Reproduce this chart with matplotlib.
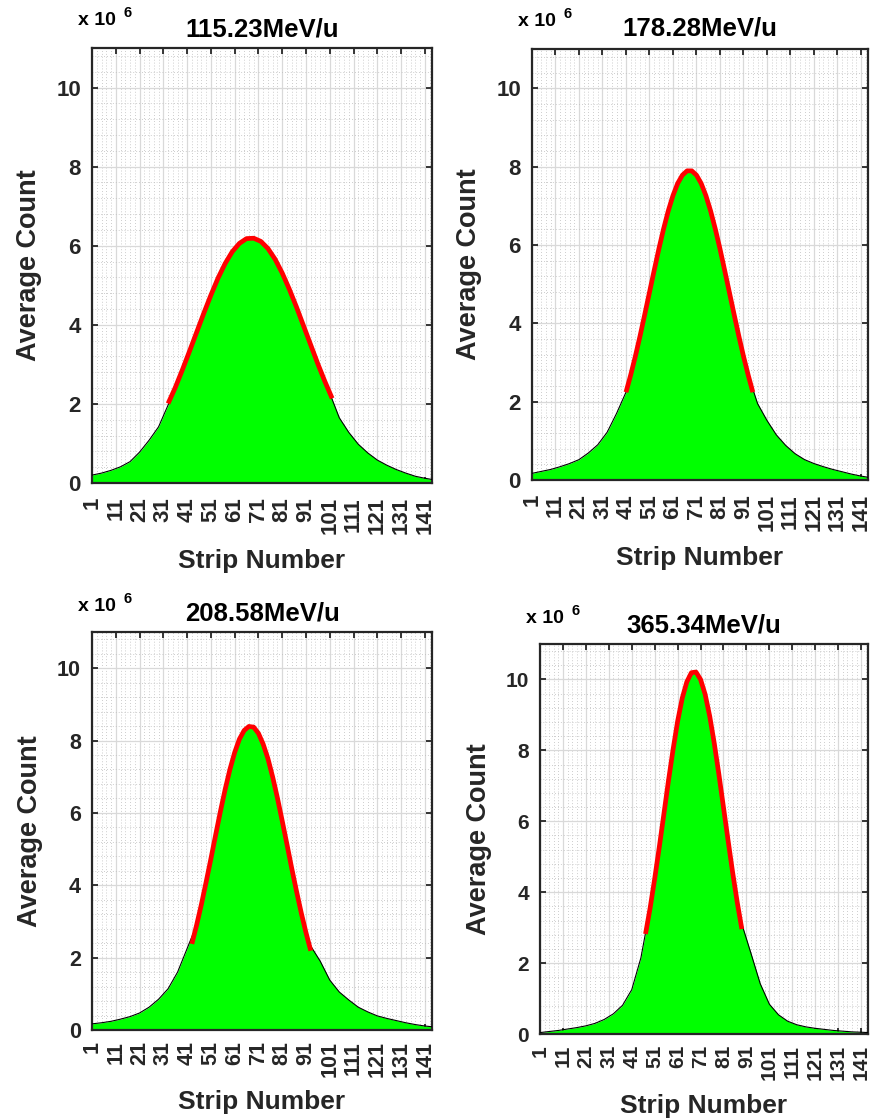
import matplotlib
matplotlib.use("Agg")
import matplotlib.pyplot as plt
from matplotlib.ticker import FixedLocator

plt.rcParams['font.family'] = ['Liberation Sans', 'DejaVu Sans']
plt.rcParams['font.weight'] = 'bold'

# Beam energies (one panel each)
energies = ['115.23MeV/u', '178.28MeV/u', '208.58MeV/u', '365.34MeV/u']

# Strip positions of the sampled profile
strips = [1, 5, 9, 13, 17, 21, 25, 29, 33, 37, 41, 45, 49, 53, 57, 61, 65, 69,
          73, 77, 81, 85, 89, 93, 97, 101, 105, 109, 113, 117, 121, 125, 129,
          133, 137, 141, 144]

# Average counts per strip (x 10^6)
counts_115 = [0.20, 0.25, 0.32, 0.41, 0.54, 0.78, 1.08, 1.42, 1.97, 2.56, 3.17,
              3.81, 4.45, 5.04, 5.55, 5.93, 6.18, 6.22, 6.08, 5.75, 5.31, 4.75,
              4.13, 3.49, 2.86, 2.27, 1.65, 1.28, 0.98, 0.76, 0.58, 0.45, 0.34,
              0.25, 0.17, 0.12, 0.09]
counts_178 = [0.17, 0.22, 0.27, 0.34, 0.42, 0.52, 0.69, 0.90, 1.22, 1.70, 2.24,
              3.16, 4.23, 5.35, 6.41, 7.26, 7.82, 7.92, 7.60, 6.87, 5.90, 4.79,
              3.68, 2.68, 1.95, 1.52, 1.15, 0.88, 0.67, 0.52, 0.42, 0.34, 0.27,
              0.21, 0.15, 0.10, 0.07]
counts_208 = [0.17, 0.20, 0.24, 0.30, 0.37, 0.47, 0.63, 0.85, 1.14, 1.60, 2.25,
              2.90, 4.09, 5.39, 6.65, 7.67, 8.30, 8.42, 7.90, 6.99, 5.78, 4.47,
              3.24, 2.32, 1.90, 1.38, 1.05, 0.83, 0.63, 0.50, 0.39, 0.32, 0.26,
              0.20, 0.15, 0.11, 0.09]
counts_365 = [0.04, 0.07, 0.10, 0.14, 0.18, 0.23, 0.30, 0.41, 0.57, 0.81, 1.25,
              2.15, 3.55, 5.27, 7.14, 8.82, 9.95, 10.25, 9.58, 8.19, 6.39, 4.55,
              3.10, 2.27, 1.42, 0.84, 0.54, 0.36, 0.26, 0.20, 0.16, 0.13, 0.10,
              0.08, 0.06, 0.05, 0.04]

# Fitted peak curves
fit_strips_115 = [33, 36, 39, 42, 45, 48, 51, 54, 57, 60, 63, 66, 69, 72, 75,
                  78, 81, 84, 87, 90, 93, 96, 99, 102]
fit_115 = [2.01, 2.41, 2.86, 3.33, 3.81, 4.29, 4.75, 5.18, 5.55, 5.85, 6.06,
           6.18, 6.19, 6.11, 5.93, 5.66, 5.31, 4.90, 4.45, 3.97, 3.49, 3.01,
           2.56, 2.14]

fit_strips_178 = [41, 43, 45, 47, 49, 51, 53, 55, 57, 59, 61, 63, 65, 67, 69,
                  71, 73, 75, 77, 79, 81, 83, 85, 87, 89, 91, 93, 95]
fit_178 = [2.24, 2.68, 3.16, 3.68, 4.23, 4.79, 5.35, 5.90, 6.41, 6.87, 7.26,
           7.57, 7.78, 7.89, 7.89, 7.78, 7.57, 7.26, 6.87, 6.41, 5.90, 5.35,
           4.79, 4.23, 3.68, 3.16, 2.68, 2.24]

fit_strips_208 = [43, 45, 47, 49, 51, 53, 55, 57, 59, 61, 63, 65, 67, 69, 71,
                  73, 75, 77, 79, 81, 83, 85, 87, 89, 91, 93]
fit_208 = [2.38, 2.90, 3.47, 4.09, 4.73, 5.39, 6.04, 6.65, 7.20, 7.67, 8.04,
           8.28, 8.39, 8.37, 8.20, 7.90, 7.50, 6.99, 6.41, 5.78, 5.13, 4.47,
           3.84, 3.24, 2.69, 2.19]

fit_strips_365 = [47, 49, 51, 53, 55, 57, 59, 61, 63, 65, 67, 69, 71, 73, 75,
                  77, 79, 81, 83, 85, 87, 89]
fit_365 = [2.82, 3.55, 4.38, 5.27, 6.20, 7.14, 8.02, 8.82, 9.47, 9.93, 10.19,
           10.21, 10.00, 9.58, 8.96, 8.19, 7.32, 6.39, 5.46, 4.55, 3.71, 2.96]

x_ticks = [1, 11, 21, 31, 41, 51, 61, 71, 81, 91, 101, 111, 121, 131, 141]
y_ticks = [0, 2, 4, 6, 8, 10]

W, H = 871, 1120
fig = plt.figure(figsize=(W / 100, H / 100), dpi=100)

# per-panel geometry: box (left, right, top, bottom in px), title pad,
# tick label size, x tick pad, x label pad
boxes = [(92, 432, 48, 483), (532, 868, 49, 480),
         (92, 432, 632, 1030), (540, 868, 644, 1034)]
title_pad = [8, 10, 8, 8]
tick_size = [16, 16, 15.5, 15]
xtick_pad = [10, 10, 8, 8]
xlabel_pad = [11, 11, 9.5, 10]

panels = [(counts_115, fit_strips_115, fit_115),
          (counts_178, fit_strips_178, fit_178),
          (counts_208, fit_strips_208, fit_208),
          (counts_365, fit_strips_365, fit_365)]

dark = '#262626'
for i, (box, (counts, fx, fy)) in enumerate(zip(boxes, panels)):
    l, r, t, b = box
    ax = fig.add_axes([l / W, 1 - b / H, (r - l) / W, (b - t) / H])
    ax.set_xlim(1, 144)
    ax.set_ylim(0, 11)

    ax.fill_between(strips, counts, 0, color='#00ff00', lw=0, zorder=2)
    ax.plot(strips, counts, color='black', lw=0.8, zorder=3)
    ax.plot(fx, fy, color='#ff0000', lw=3.4, solid_capstyle='butt', zorder=4)

    ax.xaxis.set_major_locator(FixedLocator(x_ticks))
    ax.yaxis.set_major_locator(FixedLocator(y_ticks))
    ax.xaxis.set_minor_locator(FixedLocator([v for v in range(1, 145, 2)
                                             if (v - 1) % 10 != 0]))
    ax.yaxis.set_minor_locator(FixedLocator([k * 0.4 for k in range(1, 28)
                                             if k % 5 != 0]))
    ax.set_xticklabels([str(v) for v in x_ticks], rotation=90)
    ax.set_yticklabels([str(v) for v in y_ticks])

    ax.grid(which='major', color='#d9d9d9', lw=0.9, zorder=0)
    ax.grid(which='minor', color='#bdbdbd', lw=0.6, ls=(0, (1, 2.5)), zorder=0)
    ax.set_axisbelow(True)

    ax.tick_params(which='major', direction='in', top=True, right=True,
                   length=4, width=1.3, color=dark, labelsize=tick_size[i],
                   labelcolor=dark)
    ax.tick_params(axis='x', which='major', pad=xtick_pad[i])
    ax.tick_params(axis='y', which='major', pad=8)
    ax.tick_params(which='minor', length=0)
    for sp in ax.spines.values():
        sp.set_color(dark)
        sp.set_linewidth(1.6)

    ax.set_title(energies[i], fontsize=18.5, fontweight='bold', color='black',
                 pad=title_pad[i])
    ax.set_xlabel('Strip Number', fontsize=19, fontweight='bold', color=dark,
                  labelpad=xlabel_pad[i])
    ax.set_ylabel('Average Count', fontsize=19.5, fontweight='bold', color=dark,
                  labelpad=10)

    ax.annotate('x 10', xy=(0, 1), xycoords='axes fraction',
                xytext=(-14, 23 if i < 2 else 21), textcoords='offset pixels',
                fontsize=14, fontweight='bold', color='black',
                ha='left', va='baseline')
    ax.annotate('6', xy=(0, 1), xycoords='axes fraction',
                xytext=(31, 31 if i < 2 else 29), textcoords='offset pixels',
                fontsize=10.5, fontweight='bold', color='black',
                ha='left', va='baseline')

fig.savefig('out.png', dpi=100)
